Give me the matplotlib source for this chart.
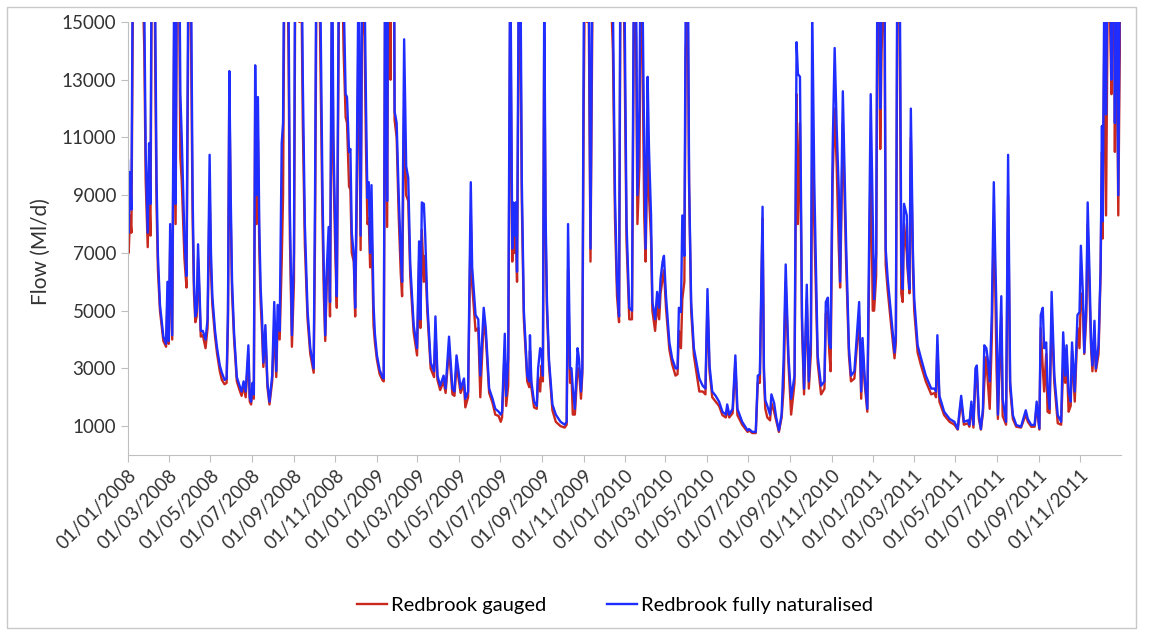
import numpy as np
import matplotlib
matplotlib.use("Agg")
import matplotlib.pyplot as plt
import matplotlib.dates as mdates
from matplotlib.patches import Rectangle

plt.rcParams['font.family'] = ['Lato', 'DejaVu Sans']

# days since 01/01/2008 (peaks and troughs)
start = np.datetime64('2008-01-01')
day = [0, 1, 3, 5, 7, 10, 14, 20, 24, 26, 29, 31, 33, 35, 38, 40, 42, 44, 47, 52,
       56, 58, 60, 62, 65, 68, 70, 72, 74, 77, 79, 83, 86, 89, 91, 93, 95, 97, 99, 101,
       103, 107, 110, 114, 117, 120, 122, 124, 128, 131, 135, 138, 142, 145, 147, 149, 151, 153, 156, 160,
       164, 167, 170, 173, 177, 179, 181, 183, 185, 187, 189, 191, 193, 195, 197, 199, 202, 205, 208, 212,
       215, 218, 220, 223, 226, 228, 230, 233, 236, 238, 241, 244, 246, 249, 252, 254, 257, 260, 264, 268,
       273, 275, 277, 280, 283, 286, 288, 290, 292, 295, 297, 300, 302, 305, 307, 310, 313, 317, 320, 322,
       325, 327, 329, 332, 334, 336, 339, 342, 344, 347, 350, 352, 354, 356, 358, 361, 363, 366, 370, 374,
       376, 378, 381, 383, 386, 388, 391, 392, 395, 398, 401, 403, 406, 409, 412, 415, 420, 425, 428, 430,
       432, 435, 437, 440, 445, 450, 452, 455, 459, 464, 467, 472, 477, 480, 483, 486, 489, 494, 496, 500,
       504, 506, 511, 515, 518, 523, 526, 531, 536, 540, 545, 548, 550, 554, 556, 559, 562, 565, 566, 568,
       570, 572, 575, 577, 579, 582, 587, 590, 591, 593, 597, 601, 603, 606, 608, 610, 612, 614, 616, 619,
       624, 629, 636, 642, 645, 647, 650, 652, 654, 657, 661, 663, 666, 668, 670, 672, 675, 677, 680, 683,
       686, 690, 696, 702, 707, 710, 713, 716, 719, 722, 724, 727, 730, 733, 737, 741, 744, 747, 749, 752,
       754, 756, 759, 761, 764, 766, 769, 771, 775, 778, 781, 783, 786, 788, 791, 796, 800, 805, 808, 810,
       813, 815, 818, 820, 823, 825, 828, 832, 840, 845, 849, 852, 855, 859, 864, 869, 874, 879, 881, 884,
       889, 893, 896, 903, 911, 913, 918, 923, 926, 929, 933, 935, 937, 940, 944, 946, 950, 953, 957, 961,
       964, 967, 971, 975, 980, 983, 985, 988, 991, 994, 998, 1001, 1004, 1006, 1009, 1014, 1019, 1024, 1026, 1029,
       1031, 1033, 1036, 1039, 1042, 1045, 1047, 1049, 1051, 1056, 1060, 1063, 1068, 1075, 1078, 1080, 1083, 1087, 1092, 1095,
       1097, 1100, 1102, 1104, 1106, 1108, 1112, 1114, 1117, 1122, 1127, 1129, 1131, 1134, 1137, 1139, 1141, 1145, 1146, 1149,
       1151, 1154, 1156, 1161, 1166, 1173, 1181, 1186, 1188, 1190, 1193, 1200, 1208, 1215, 1220, 1222, 1225, 1229, 1235, 1237,
       1240, 1243, 1246, 1248, 1251, 1254, 1257, 1259, 1262, 1264, 1267, 1270, 1273, 1275, 1277, 1279, 1284, 1286, 1291, 1294,
       1297, 1301, 1306, 1313, 1320, 1323, 1328, 1333, 1336, 1340, 1342, 1345, 1347, 1350, 1352, 1355, 1358, 1362, 1367, 1372,
       1375, 1378, 1380, 1383, 1386, 1388, 1392, 1396, 1399, 1401, 1404, 1406, 1409, 1411, 1414, 1416, 1418, 1421, 1423, 1427,
       1430, 1432, 1433, 1436, 1438, 1441, 1444, 1446, 1449, 1451, 1453, 1456, 1458, 1460]

naturalised = [10200, 7700, 9800, 8500, 17000, 22000, 26000, 20000, 15500, 10500, 7700, 10800, 8700, 19000, 24000, 15500, 9500, 6900, 5200, 4100,
               3850, 6000, 3950, 8000, 4150, 17000, 8700, 19000, 22000, 12500, 11000, 7500, 6200, 18000, 24000, 15500, 9000, 6000, 4800, 5000,
               7300, 4300, 4300, 4000, 4700, 10400, 7000, 5500, 4300, 3700, 3100, 2850, 2600, 2650, 5000, 13300, 9000, 6000, 4200, 2700,
               2400, 2200, 2550, 2200, 3800, 2000, 1850, 2500, 2100, 13500, 9000, 12400, 8000, 5800, 4800, 3200, 4500, 2500, 1850, 2750,
               5300, 2900, 5200, 4300, 10800, 11500, 19000, 23000, 16000, 8500, 4150, 7000, 19000, 24000, 17000, 21000, 13000, 8000, 5000, 3700,
               3000, 9000, 18000, 22000, 15500, 9000, 6300, 4150, 6300, 7900, 5300, 18000, 11000, 7500, 5500, 17000, 22000, 16000, 12500, 12400,
               10500, 10600, 7700, 6900, 5100, 9000, 17000, 7600, 16000, 18000, 12000, 8900, 9450, 7000, 9350, 5200, 4200, 3450, 2950, 2700,
               2650, 18000, 8800, 21000, 16000, 24000, 19000, 11900, 11500, 9000, 7000, 6000, 14400, 10000, 9600, 6600, 4500, 3700, 7400, 4700,
               8750, 8700, 7600, 5300, 3200, 2900, 4800, 2750, 2400, 2750, 2300, 4100, 2300, 2200, 3450, 2900, 2300, 2650, 1950, 2200,
               9450, 6500, 4850, 4700, 2750, 5100, 4400, 2300, 1950, 1600, 1500, 1400, 1500, 4200, 2050, 3350, 18000, 7150, 8750, 7600,
               8750, 6350, 19000, 17000, 9500, 5000, 2750, 2550, 4150, 2550, 1850, 1700, 3000, 3700, 3550, 2750, 16000, 8300, 5300, 3300,
               1750, 1400, 1150, 1050, 1150, 8000, 3000, 3000, 2300, 1600, 3700, 3350, 2200, 3000, 14500, 20000, 17000, 19000, 7150, 18000,
               22000, 25000, 28000, 24000, 26000, 18000, 15500, 9000, 6000, 4800, 18000, 22000, 16000, 8000, 5100, 5000, 18000, 16500, 9000, 12000,
               19000, 17000, 10600, 7150, 13100, 10600, 8300, 5300, 4700, 5650, 5100, 6100, 6700, 6900, 5500, 3900, 3350, 3000, 3000, 5100,
               4950, 8300, 6900, 16000, 18000, 9450, 5300, 3700, 2650, 2400, 2300, 5750, 3100, 2200, 2050, 1850, 1500, 1400, 1750, 1400,
               1600, 3450, 1600, 1150, 850, 900, 800, 800, 2750, 2800, 8600, 3000, 1900, 1700, 1400, 2100, 1800, 1300, 850, 1400,
               3350, 6600, 3450, 1950, 2750, 14300, 13200, 13100, 4800, 2300, 5900, 2550, 4000, 15500, 9500, 3450, 2400, 2550, 5300, 5450,
               3900, 3700, 10500, 14100, 11300, 9200, 6000, 9200, 12600, 7150, 3700, 2750, 2900, 5300, 2200, 4050, 2750, 1600, 12500, 8300,
               5400, 7000, 18000, 20000, 12000, 16000, 19000, 7150, 6100, 4850, 3550, 4200, 17000, 20000, 6700, 5750, 8700, 8300, 6700, 5750,
               12000, 7100, 5400, 3800, 3350, 2750, 2300, 2300, 2200, 4150, 2050, 1500, 1250, 1150, 900, 1400, 2050, 1150, 1200, 1050,
               1850, 1050, 3000, 3100, 1400, 900, 1600, 3800, 3700, 3350, 2550, 4850, 9450, 7000, 4850, 1400, 5500, 1950, 1150, 10400,
               2550, 1380, 1040, 980, 1550, 1250, 1040, 1040, 1850, 920, 4850, 5100, 3700, 3900, 2400, 1600, 5650, 2750, 1380, 1150,
               4250, 2750, 3800, 2200, 1850, 3900, 2200, 4850, 4950, 7250, 5550, 3550, 5300, 8750, 6000, 3900, 3100, 4650, 3000, 3800,
               6450, 11400, 8100, 18000, 11800, 20000, 17000, 13000, 22000, 11500, 19000, 9000, 16000, 20000]

gauged = [8300, 7000, 8300, 7700, 15000, 19000, 23000, 18000, 14000, 9500, 7200, 9300, 7600, 17000, 21000, 13500, 8600, 6400, 5000, 3950,
          3750, 5500, 3850, 7300, 4000, 15000, 8000, 17000, 19500, 10300, 9500, 6800, 5800, 16000, 21000, 13500, 8200, 5600, 4600, 4800,
          6800, 4100, 4150, 3700, 4400, 9200, 6400, 5200, 4100, 3500, 2900, 2600, 2450, 2500, 4600, 12900, 8300, 5600, 4000, 2550,
          2250, 2050, 2400, 2000, 3500, 1850, 1750, 2300, 1950, 12000, 8000, 11000, 7200, 5300, 4300, 3050, 4200, 2350, 1750, 2550,
          4500, 2700, 4600, 4000, 6700, 9000, 17000, 20000, 14000, 7600, 3750, 6000, 17000, 21000, 15000, 18500, 11500, 7300, 4700, 3500,
          2850, 7500, 16000, 19500, 13500, 8000, 5500, 3950, 5800, 7200, 4800, 16000, 10000, 6800, 5100, 15000, 19500, 14000, 11700, 11500,
          9300, 9200, 7000, 6700, 4800, 8000, 15000, 7100, 14500, 16000, 10500, 8000, 8200, 6500, 8000, 4500, 3900, 3300, 2800, 2600,
          2550, 16000, 7900, 18500, 13000, 21000, 17000, 11600, 11000, 8300, 6300, 5500, 12000, 9000, 8800, 6200, 4250, 3450, 6700, 4400,
          7800, 6000, 6900, 5000, 3000, 2700, 4300, 2600, 2250, 2550, 2150, 3700, 2100, 2050, 3100, 2650, 2150, 2450, 1650, 2000,
          8300, 5900, 4300, 4400, 2000, 4700, 4100, 2150, 1800, 1400, 1350, 1150, 1300, 3700, 1700, 2400, 16000, 6700, 8000, 7000,
          8000, 6000, 17000, 15000, 8800, 4700, 2550, 2350, 3600, 2350, 1650, 1600, 2700, 2200, 3100, 2550, 14500, 7700, 5000, 3100,
          1550, 1150, 1000, 950, 1050, 6400, 2500, 2800, 1400, 1400, 3000, 3000, 1950, 2800, 12000, 17500, 15000, 17000, 6700, 16000,
          19500, 22000, 25000, 21000, 23000, 16000, 14000, 8200, 5500, 4600, 16000, 19500, 14000, 7400, 4700, 4700, 16000, 14500, 8000, 10000,
          17000, 15000, 8300, 6700, 11000, 9000, 7500, 5000, 4300, 5200, 4700, 5600, 6100, 6400, 5100, 3650, 3150, 2750, 2800, 4300,
          3700, 5400, 6000, 14000, 15500, 9200, 5000, 3450, 2200, 2200, 2100, 5300, 2900, 2000, 1850, 1700, 1380, 1300, 1600, 1300,
          1450, 3200, 1380, 1050, 800, 850, 760, 760, 2500, 2500, 8200, 2700, 1600, 1300, 1200, 1800, 1500, 1200, 800, 1300,
          2300, 6000, 3200, 1400, 2500, 12500, 8000, 11500, 4400, 2100, 5400, 2300, 3500, 10400, 8000, 3200, 2100, 2300, 4900, 5000,
          3600, 2900, 9500, 12000, 10000, 7200, 5800, 8400, 11500, 6500, 3450, 2550, 2650, 4800, 1950, 3700, 2500, 1500, 10500, 5000,
          5000, 6200, 16000, 17500, 10600, 14000, 17000, 6600, 5700, 4500, 3350, 3900, 15000, 17500, 5600, 5300, 8000, 7000, 6500, 5600,
          11000, 6500, 5000, 3550, 3100, 2550, 2100, 2150, 2000, 3800, 1850, 1380, 1150, 1050, 880, 1300, 1900, 1050, 1100, 980,
          1700, 950, 2700, 2900, 1250, 880, 1450, 2500, 3400, 2600, 1600, 4000, 8000, 6000, 3000, 1250, 4800, 1350, 1050, 9000,
          2300, 1250, 980, 950, 1400, 1150, 980, 980, 1700, 880, 4400, 3000, 2200, 3500, 1500, 1450, 4850, 2500, 1100, 1050,
          3100, 2500, 3400, 1500, 1700, 3600, 1850, 4400, 3700, 5600, 5000, 3500, 4800, 8000, 5500, 3700, 2900, 4300, 2900, 3500,
          6300, 10500, 7500, 16000, 8300, 17500, 15000, 12500, 19500, 10500, 17000, 8300, 13500, 17000]

y_ticks = list(range(1000, 15001, 2000))

dates = start + np.array(day).astype('timedelta64[D]')

fig = plt.figure(figsize=(11.49, 6.35), dpi=100)
ax = fig.add_axes([128 / 1149, 1 - 455 / 635, (1121 - 128) / 1149, (455 - 22) / 635])

ax.plot(dates, gauged, color='#c8281e', lw=1.7, label='Redbrook gauged')
ax.plot(dates, naturalised, color='#1f2dff', lw=1.7, label='Redbrook fully naturalised')

ax.set_ylim(0, 15000)
ax.set_yticks(y_ticks)
ax.set_xlim(start, start + 1460)
ax.xaxis.set_major_locator(mdates.MonthLocator(bymonth=[1, 3, 5, 7, 9, 11]))
ax.xaxis.set_major_formatter(mdates.DateFormatter('%d/%m/%Y'))

for s in ['top', 'right']:
    ax.spines[s].set_visible(False)
for s in ['left', 'bottom']:
    ax.spines[s].set_color('#bfbfbf')
ax.tick_params(colors='#bfbfbf', labelcolor='#333333', labelsize=13.5, length=5)
plt.setp(ax.get_xticklabels(), rotation=45, ha='right', rotation_mode='anchor')

fig.text(41 / 1149, 1 - 252 / 635, 'Flow (Ml/d)', rotation=90, ha='center', va='center',
         fontsize=15, color='#333333')

fig.legend(loc='center', bbox_to_anchor=(615 / 1149, 1 - 605 / 635), ncol=2, frameon=False,
           fontsize=14.5, handlelength=1.5, handletextpad=0.2, columnspacing=3)

fig.add_artist(Rectangle((7 / 1149, 7 / 635), (1136 - 7) / 1149, (628 - 7) / 635,
                         transform=fig.transFigure, fill=False, edgecolor='#c8c8c8', lw=1))

fig.savefig('out.png', dpi=100)
